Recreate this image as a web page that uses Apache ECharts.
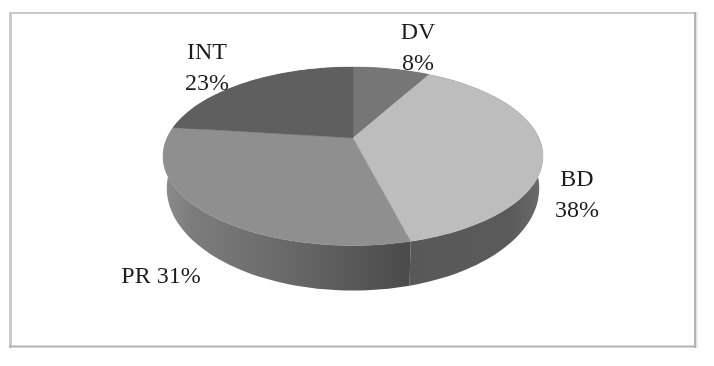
<!DOCTYPE html>
<html>
<head>
<meta charset="utf-8">
<style>
html,body{margin:0;padding:0;background:#fff}
#c{width:714px;height:366px;filter:blur(0.45px)}
</style>
<script src="https://cdn.jsdelivr.net/npm/echarts@6/dist/echarts.min.js"></script>
</head>
<body>
<div id="c"></div>
<script>
const categories = ['DV', 'BD', 'PR', 'INT'];
const values = [8, 38, 31, 23];
const topColors = ['#767676', '#bdbdbd', '#8f8f8f', '#5f5f5f'];
const wallStops = [
  [[0,'#6a6a6a'],[1,'#6a6a6a']],
  [[0,'#585858'],[0.75,'#5a5a5a'],[1,'#6c6c6c']],
  [[0,'#8c8c8c'],[0.12,'#7c7c7c'],[0.55,'#666666'],[0.9,'#505050'],[1,'#4a4a4a']],
  [[0,'#555555'],[1,'#555555']]
];
const labelLines = [['DV','8%'],['BD','38%'],['PR 31%'],['INT','23%']];
const labelAnchors = [[418,48],[577,195],[161,277],[207,68]];

// Perspective projection of the disc: apex at (CX,CY), rim is an off-centre ellipse.
const CX=353, CY=138, A=186, B=85.5, P=-0.2045, RIMY=18;
const WALL_CY=188, WALL_SX=0.98, WALL_SY=1.146;
const total = values.reduce((a,b)=>a+b,0);
let acc=0;
const starts = values.map(v=>{const s=acc; acc+=v; return s;});

function rim(t){
  const u=Math.sin(t), v=-Math.cos(t), w=1+P*v;
  return [A*u/w, B*v/w];
}
function sweep(i){
  const a0=starts[i]/total*2*Math.PI, a1=(starts[i]+values[i])/total*2*Math.PI;
  const n=Math.max(8,Math.round(values[i]*2));
  const r=[];
  for(let k=0;k<=n;k++) r.push(rim(a0+(a1-a0)*k/n));
  return r;
}
function topShape(p){return [CX+p[0],CY+p[1]];}
function wallShape(p){return [CX+p[0]*WALL_SX,WALL_CY+(p[1]-RIMY)*WALL_SY];}

const rows = categories.map((c,i)=>[i,values[i]]);

const chart = echarts.init(document.getElementById('c'),null,{renderer:'canvas'});
chart.setOption({
  animation:false,
  backgroundColor:'#ffffff',
  graphic:[
    {type:'rect',shape:{x:9,y:12,width:3,height:336},style:{fill:'#cbcbcb'},silent:true},
    {type:'rect',shape:{x:9,y:12,width:688,height:2},style:{fill:'#c9c9c9'},silent:true},
    {type:'rect',shape:{x:694,y:12,width:2,height:336},style:{fill:'#b4b4b4'},silent:true},
    {type:'rect',shape:{x:696,y:12,width:1.5,height:336},style:{fill:'#e2e2e2'},silent:true},
    {type:'rect',shape:{x:9,y:345.5,width:687,height:2},style:{fill:'#b2b2b2'},silent:true}
  ],
  series:[
    {type:'custom',coordinateSystem:'none',silent:true,z:2,data:rows,
     renderItem:(params,api)=>{
       const i=api.value(0), r=sweep(i);
       const pts=r.map(topShape).concat(r.slice().reverse().map(wallShape));
       return {type:'polygon',shape:{points:pts},
         style:{fill:{type:'linear',x:0,y:0,x2:1,y2:0,colorStops:wallStops[i].map(s=>({offset:s[0],color:s[1]}))}}};
     }},
    {type:'custom',coordinateSystem:'none',silent:true,z:3,data:rows,
     renderItem:(params,api)=>{
       const i=api.value(0);
       const pts=[[CX,CY]].concat(sweep(i).map(topShape));
       return {type:'polygon',shape:{points:pts},
         style:{fill:topColors[i],stroke:topColors[i],lineWidth:0.4}};
     }},
    {type:'custom',coordinateSystem:'none',silent:true,z:4,data:rows,
     renderItem:(params,api)=>{
       const i=api.value(0);
       return {type:'text',x:labelAnchors[i][0],y:labelAnchors[i][1],
         style:{text:labelLines[i].join('\n'),fontFamily:'"Liberation Serif"',fontSize:24,lineHeight:31,
           fill:'#1c1c1c',align:'center',verticalAlign:'middle'}};
     }}
  ]
});
</script>
</body>
</html>
